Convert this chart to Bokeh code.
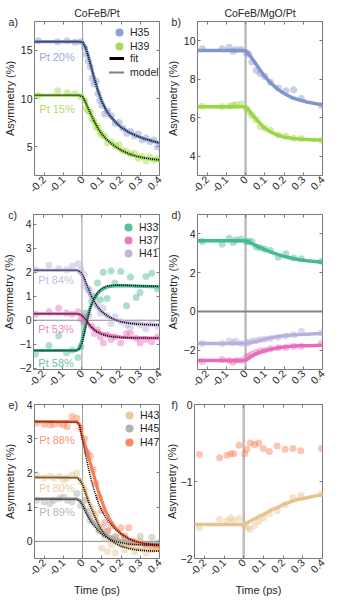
import math
from bokeh.plotting import figure
from bokeh.models import (Range1d, LinearAxis, FixedTicker, Span, Label,
                          Legend, LegendItem)
from bokeh.layouts import column, row
from bokeh.embed import file_html
from bokeh.resources import INLINE

# ---------------- axes / text data ----------------
x_limits = [-0.25, 0.4]
x_ticks = [-0.2, -0.1, 0.0, 0.1, 0.2, 0.3, 0.4]
x_tick_labels = ["-0.2", "-0.1", "0", "0.1", "0.2", "0.3", "0.4"]
col_titles = ["CoFeB/Pt", "CoFeB/MgO/Pt"]
panel_tags = ["a)", "b)", "c)", "d)", "e)", "f)"]
y_label = "Asymmetry (%)"
x_label = "Time (ps)"

ya_limits = [2, 18];      ya_ticks = [5, 10, 15]
yb_limits = [3, 11];      yb_ticks = [4, 6, 8, 10]
yc_limits = [-2.05, 4.4]; yc_ticks = [-2, -1, 0, 1, 2, 3, 4]
yd_limits = [-3, 5];      yd_ticks = [-2, 0, 2, 4]
ye_limits = [-0.5, 4];    ye_ticks = [0, 1, 2, 3, 4]
yf_limits = [-2, 0];      yf_ticks = [-2, -1, 0]

# time grid on which the fit / model curves were read
t_curve = [-0.25, -0.03, -0.015, 0.0, 0.015, 0.03, 0.045, 0.06, 0.08, 0.10,
           0.12, 0.14, 0.17, 0.20, 0.24, 0.28, 0.32, 0.36, 0.40]

# ---------------- panel a (CoFeB/Pt) ----------------
t_a = [-0.23, -0.13, -0.08, -0.04, -0.01, 0.01, 0.02, 0.03, 0.04, 0.05, 0.06,
       0.07, 0.08, 0.09, 0.10, 0.115, 0.13, 0.15, 0.17, 0.19, 0.21, 0.23, 0.25,
       0.27, 0.29, 0.31, 0.33, 0.35, 0.37, 0.39]
a_H35 = [16.0, 15.9, 16.0, 15.85, 15.9, 15.3, 14.6, 13.9, 13.3, 12.1, 11.5, 11.8,
         10.5, 9.8, 9.3, 8.4, 8.7, 8.2, 7.4, 7.5, 6.9, 6.4, 6.6, 6.1, 6.3, 5.7,
         5.9, 5.5, 5.7, 4.95]
a_H39 = [10.3, 10.8, 10.6, 10.5, 10.2, 9.8, 9.0, 8.7, 8.6, 7.9, 7.6, 7.0, 7.1,
         6.5, 6.2, 6.1, 5.4, 5.5, 5.1, 5.2, 4.6, 4.5, 4.2, 4.3, 3.8, 4.0, 3.5,
         3.9, 3.6, 3.75]
a_fit_H35 = [15.9, 15.9, 15.9, 15.85, 15.35, 14.4, 13.28, 12.15, 10.8, 9.69,
             8.88, 8.25, 7.55, 7.0, 6.5, 6.12, 5.82, 5.6, 5.37]
a_fit_H39 = [10.34, 10.34, 10.32, 10.2, 9.65, 8.95, 8.27, 7.65, 6.9, 6.29,
             5.83, 5.48, 5.0, 4.63, 4.25, 4.0, 3.83, 3.71, 3.62]
a_mod_H35 = [15.9, 15.9, 15.9, 15.83, 15.3, 14.35, 13.25, 12.15, 10.8, 9.7,
             8.9, 8.27, 7.57, 7.02, 6.5, 6.12, 5.83, 5.6, 5.38]
a_mod_H39 = [10.34, 10.34, 10.32, 10.18, 9.62, 8.93, 8.26, 7.65, 6.9, 6.3,
             5.84, 5.48, 5.01, 4.64, 4.26, 4.0, 3.83, 3.71, 3.62]

# ---------------- panels b, d, f (CoFeB/MgO/Pt) ----------------
t_bdf = [-0.225, -0.122, -0.085, -0.066, -0.05, -0.024, 0.005, 0.016, 0.033,
         0.055, 0.076, 0.1, 0.13, 0.17, 0.21, 0.25, 0.29, 0.395]
b_H35 = [9.58, 9.58, 9.66, 9.45, 9.55, 9.54, 9.38, 9.3, 8.9, 8.47, 8.3, 8.14,
         7.85, 7.55, 7.4, 7.45, 7.0, 6.64]
b_H39 = [6.6, 6.57, 6.6, 6.65, 6.67, 6.72, 6.5, 6.3, 6.1, 5.9, 5.55, 5.45, 5.35,
         5.1, 5.05, 4.93, 4.92, 4.82]
b_fit_H35 = [9.5, 9.5, 9.5, 9.48, 9.33, 9.13, 8.92, 8.7, 8.41, 8.15, 7.91,
             7.72, 7.46, 7.26, 7.05, 6.92, 6.82, 6.74, 6.67]
b_fit_H39 = [6.57, 6.57, 6.57, 6.55, 6.42, 6.23, 6.04, 5.86, 5.66, 5.46, 5.32,
             5.21, 5.09, 5.0, 4.93, 4.89, 4.87, 4.85, 4.84]

d_H33 = [3.61, 3.47, 3.78, 3.56, 3.68, 3.73, 3.6, 3.62, 3.61, 3.32, 3.28, 3.22,
         3.14, 2.8, 2.97, 2.75, 2.71, 2.59]
d_H37 = [-2.59, -2.49, -2.54, -2.62, -2.54, -2.54, -2.37, -2.3, -2.2, -2.12,
         -2.05, -2.0, -1.92, -1.88, -1.86, -1.8, -1.8, -1.64]
d_H41 = [-1.66, -1.66, -1.53, -1.6, -1.53, -1.66, -1.62, -1.6, -1.53, -1.5,
         -1.45, -1.44, -1.4, -1.33, -1.27, -1.2, -1.02, -1.1]
d_fit_H33 = [3.64, 3.64, 3.64, 3.63, 3.58, 3.51, 3.44, 3.37, 3.28, 3.19, 3.11,
             3.03, 2.93, 2.84, 2.74, 2.66, 2.61, 2.57, 2.54]
d_fit_H37 = [-2.54, -2.54, -2.54, -2.52, -2.43, -2.33, -2.24, -2.17, -2.09,
             -2.03, -1.98, -1.94, -1.88, -1.84, -1.8, -1.78, -1.77, -1.76, -1.75]
d_fit_H41 = [-1.66, -1.66, -1.66, -1.65, -1.63, -1.6, -1.57, -1.54, -1.49,
             -1.44, -1.39, -1.35, -1.3, -1.26, -1.22, -1.2, -1.18, -1.16, -1.14]

f_H43 = [-1.6, -1.49, -1.51, -1.47, -1.51, -1.48, -1.57, -1.6, -1.62, -1.57,
         -1.52, -1.47, -1.42, -1.38, -1.3, -1.21, -1.18, -1.16]
f_H47 = [-0.65, -0.69, -0.66, -0.64, -0.64, -0.53, -0.64, -0.58, -0.5, -0.52,
         -0.5, -0.57, -0.61, -0.54, -0.58, -0.57, -0.6, -0.57]
f_fit_H43 = [-1.56, -1.56, -1.56, -1.56, -1.54, -1.52, -1.5, -1.48, -1.45,
             -1.43, -1.4, -1.37, -1.34, -1.3, -1.26, -1.23, -1.21, -1.19, -1.17]

# ---------------- panel c ----------------
t_c = [-0.24, -0.17, -0.12, -0.08, -0.05, -0.02, -0.005, 0.01, 0.02, 0.035,
       0.05, 0.065, 0.08, 0.095, 0.11, 0.13, 0.15, 0.17, 0.2, 0.23, 0.25, 0.28,
       0.3, 0.33, 0.36, 0.39]
c_H33 = [-1.4, -1.05, -0.65, -1.35, -1.25, -1.55, -1.1, -0.1, 0.3, 1.25, 0.8,
         1.0, 1.55, 0.85, 2.0, 0.9, 2.05, 1.55, 2.03, 0.6, 1.8, 0.95, 1.15, 1.82,
         1.96, 1.3]
c_H37 = [0.25, 0.35, 0.5, 0.3, 0.25, 0.35, 0.05, 0.15, -0.05, 0.2, -0.25, -0.55,
         -0.4, -0.7, -0.95, -0.6, -0.8, -0.7, -0.95, -0.55, -0.55, -0.75, -0.95,
         -0.8, -0.9, -0.7]
c_H41 = [2.1, 2.3, 2.15, 2.1, 2.25, 2.35, 2.1, 1.9, 1.4, 1.3, 1.05, 0.85, 0.6,
         0.3, 0.5, 0.2, -0.15, 0.15, -0.05, -0.2, -0.3, -0.1, -0.2, -0.35, -0.15,
         -0.25]
c_fit_H33 = [-1.26, -1.26, -1.18, -0.85, -0.3, 0.2, 0.58, 0.86, 1.1, 1.26, 1.35,
             1.4, 1.43, 1.44, 1.43, 1.42, 1.41, 1.4, 1.39]
c_fit_H37 = [0.27, 0.27, 0.25, 0.18, 0.05, -0.12, -0.26, -0.37, -0.47, -0.54,
             -0.59, -0.63, -0.67, -0.7, -0.72, -0.73, -0.735, -0.74, -0.74]
c_fit_H41 = [2.08, 2.08, 2.02, 1.87, 1.6, 1.26, 0.98, 0.75, 0.52, 0.35, 0.23,
             0.13, 0.02, -0.05, -0.11, -0.14, -0.16, -0.18, -0.19]
c_mod_H33 = [-1.26, -1.26, -1.22, -0.98, -0.45, 0.1, 0.55, 0.87, 1.15, 1.32,
             1.4, 1.44, 1.46, 1.46, 1.45, 1.44, 1.43, 1.42, 1.41]
c_mod_H37 = [0.27, 0.27, 0.26, 0.2, 0.08, -0.1, -0.25, -0.38, -0.5, -0.58,
             -0.63, -0.67, -0.7, -0.72, -0.73, -0.74, -0.74, -0.74, -0.74]
c_mod_H41 = [2.08, 2.08, 2.06, 1.95, 1.7, 1.38, 1.08, 0.82, 0.57, 0.38, 0.25,
             0.14, 0.02, -0.06, -0.12, -0.16, -0.18, -0.19, -0.2]

# ---------------- panel e ----------------
t_e = [-0.24, -0.2, -0.17, -0.15, -0.12, -0.1, -0.08, -0.055, -0.03, -0.01,
       0.01, 0.025, 0.04, 0.055, 0.07, 0.085, 0.1, 0.115, 0.13, 0.15, 0.17, 0.2,
       0.22, 0.24, 0.27, 0.3, 0.33, 0.36, 0.39]
e_H43 = [1.95, 1.85, 1.9, 1.85, 1.9, 1.8, 1.85, 1.95, 2.0, 1.75, 1.5, 1.2, 1.0,
         0.6, 0.8, 0.35, -0.2, 0.1, -0.3, -0.1, -0.35, 0.05, -0.25, -0.1, -0.3,
         -0.2, -0.35, -0.25, -0.2]
e_H45 = [1.2, 1.15, 1.1, 1.2, 1.25, 1.3, 1.2, 1.15, 1.4, 1.05, 1.2, 0.85, 0.6,
         0.8, 0.55, 0.3, 0.4, 0.2, 0.3, 0.05, 0.15, -0.1, 0.1, -0.05, 0.0, 0.15,
         -0.1, 0.12, -0.05]
e_H47 = [3.45, 3.42, 3.4, 3.42, 3.45, 3.4, 3.35, 3.65, 3.6, 3.3, 3.0, 2.6, 2.5,
         2.1, 1.7, 1.3, 0.9, 0.55, 0.3, 0.45, 0.1, 0.4, 0.15, 0.4, -0.05, 0.0,
         -0.1, -0.15, -0.2]
e_fit_H43 = [1.87, 1.87, 1.82, 1.68, 1.45, 1.2, 1.0, 0.82, 0.55, 0.35, 0.2, 0.1,
             -0.03, -0.11, -0.18, -0.22, -0.25, -0.26, -0.27]
e_fit_H45 = [1.24, 1.24, 1.2, 1.1, 0.92, 0.76, 0.62, 0.52, 0.4, 0.28, 0.2, 0.14,
             0.07, 0.02, -0.02, -0.05, -0.06, -0.07, -0.08]
e_fit_H47 = [3.5, 3.5, 3.42, 3.05, 2.78, 2.5, 2.2, 1.9, 1.5, 1.18, 0.88, 0.65,
             0.4, 0.22, 0.07, -0.02, -0.07, -0.11, -0.13]
e_mod_H43 = [1.87, 1.86, 1.8, 1.65, 1.42, 1.17, 0.96, 0.78, 0.52, 0.32, 0.17,
             0.06, -0.06, -0.14, -0.21, -0.25, -0.27, -0.28, -0.28]
e_mod_H45 = [1.24, 1.23, 1.18, 1.06, 0.87, 0.7, 0.56, 0.45, 0.32, 0.21, 0.13,
             0.07, 0.0, -0.04, -0.08, -0.1, -0.11, -0.11, -0.12]
e_mod_H47 = [3.5, 3.48, 3.38, 2.95, 2.55, 2.15, 1.8, 1.5, 1.15, 0.9, 0.7, 0.55,
             0.36, 0.22, 0.08, -0.01, -0.06, -0.08, -0.09]

# sample labels
pt_a = ["Pt 20%", "Pt 15%"]
pt_c = ["Pt 84%", "Pt 53%", "Pt 58%"]
pt_e = ["Pt 88%", "Pt 80%", "Pt 89%"]

# ---------------- style ----------------
FONT = "Liberation Sans"
INK = "#262626"
BOX = "#7a7a7a"
COL = {"H35": "#8296cd", "H39": "#9bd646", "H33": "#46b991", "H37": "#e66eb9",
       "H41": "#b9afdc", "H43": "#e6c391", "H45": "#aaaaaa", "H47": "#fa7d55"}
NAN = float("nan")
NBSP = "\u00a0"


def style_axis(ax):
    ax.axis_line_color = None
    ax.major_tick_line_color = BOX
    ax.major_tick_in = 3
    ax.major_tick_out = 0
    ax.minor_tick_line_color = None
    ax.major_label_text_font = FONT
    ax.major_label_text_font_size = "10.5px"
    ax.major_label_text_color = INK
    ax.major_label_standoff = 2
    ax.axis_label_text_font = FONT
    ax.axis_label_text_font_size = "11px"
    ax.axis_label_text_font_style = "normal"
    ax.axis_label_text_color = INK
    ax.axis_label_standoff = 2


def fmt_num(v):
    return str(int(v)) if float(v).is_integer() else str(v)


def make_fig(w, h, borders, ylim, yticks, tag, title=None, xlabel=None):
    left, right, top, bottom = borders
    p = figure(width=w, height=h, x_range=Range1d(*x_limits),
               y_range=Range1d(*ylim), output_backend="svg",
               toolbar_location=None, min_border_left=left,
               min_border_right=right, min_border_top=top,
               min_border_bottom=bottom)
    p.background_fill_color = "white"
    p.border_fill_color = "white"
    p.grid.visible = False
    p.outline_line_color = BOX
    p.outline_line_width = 1
    if title:
        p.title.text = title
        p.title.align = "center"
        p.title.text_font = FONT
        p.title.text_font_size = "10.5px"
        p.title.text_font_style = "normal"
        p.title.text_color = INK
        p.title.standoff = 6
    xa, ya = p.xaxis[0], p.yaxis[0]
    style_axis(xa)
    style_axis(ya)
    xa.ticker = FixedTicker(ticks=x_ticks)
    xa.major_label_overrides = dict(zip(x_ticks, x_tick_labels))
    xa.major_label_orientation = math.pi / 4
    # panel tag: written as the label of the y tick at the top of the frame,
    # pushed left with no-break spaces so it sits left of the tick labels
    top_val = ylim[1]
    if top_val in yticks:
        ya.ticker = FixedTicker(ticks=list(yticks))
        tag_txt = tag + NBSP * 3 + fmt_num(top_val)
    else:
        ya.ticker = FixedTicker(ticks=list(yticks) + [top_val])
        tag_txt = tag + NBSP * 5
    ya.major_label_overrides = {top_val: tag_txt}
    ya.axis_label = y_label
    try:
        ya.axis_label_standoff = -10
    except Exception:
        ya.axis_label_standoff = 0
    if xlabel:
        xa.axis_label = xlabel
    # mirrored tick marks on top and right (box style), no labels drawn
    for side, ticks in (("above", x_ticks), ("right", yticks)):
        ax = LinearAxis(ticker=FixedTicker(ticks=ticks))
        style_axis(ax)
        ax.major_label_text_font_size = "0px"
        ax.major_label_text_color = None
        ax.major_label_standoff = 0
        p.add_layout(ax, side)
    return p


def vline(p, thick):
    if thick:
        p.add_layout(Span(location=0, dimension="height", line_color="#bdbdbd",
                          line_width=2.5, level="underlay"))
    else:
        p.add_layout(Span(location=0, dimension="height", line_color="#9a9a9a",
                          line_width=1, level="underlay"))


def hline(p, thick):
    p.add_layout(Span(location=0, dimension="width",
                      line_color="#858585" if thick else "#8c8c8c",
                      line_width=2 if thick else 1, level="underlay"))


def pts(p, t, y, c):
    p.scatter(t, y, size=7, fill_color=c, fill_alpha=0.45, line_color=None)


def fit(p, y, c, w=3.2):
    p.line(t_curve, y, line_color=c, line_width=w, line_cap="round")


def model(p, y):
    p.line(t_curve, y, line_color="black", line_width=1.6, line_dash="1 1")


def tag_text(p, x, y, text, c):
    p.add_layout(Label(x=x, y=y, text=text, text_font=FONT,
                       text_font_size="11px", text_color=c, text_alpha=0.85,
                       text_baseline="middle", text_align="left"))


def one_legend(p, label, renderer, loc, gw, gh, standoff):
    p.add_layout(Legend(items=[LegendItem(label=label, renderers=[renderer])],
                        location=loc, glyph_width=gw, glyph_height=gh,
                        label_height=gh, spacing=0, padding=0, margin=0,
                        label_standoff=standoff, background_fill_alpha=0,
                        border_line_alpha=0, label_text_font=FONT,
                        label_text_font_size="10.5px",
                        label_text_color=INK))


def circle_legend(p, names, x, ys):
    for n, y in zip(names, ys):
        r = p.scatter(x=[NAN], y=[NAN], size=8, fill_color=COL[n],
                      fill_alpha=0.9, line_color=None)
        one_legend(p, n, r, (x, y), 20, 20, 1)


# ---------------- geometry ----------------
WL, WR = 163, 164
BL = (29, 4)
BR = (29, 5)
rows_h = [(198, 21, 23), (194, 16, 23), (206, 12, 40)]

# ---------------- panel a ----------------
h, tp, bt = rows_h[0]
pa = make_fig(WL, h, BL + (tp, bt), ya_limits, ya_ticks, panel_tags[0],
              title=col_titles[0])
vline(pa, False)
pts(pa, t_a, a_H35, COL["H35"])
pts(pa, t_a, a_H39, COL["H39"])
fit(pa, a_fit_H35, COL["H35"])
fit(pa, a_fit_H39, COL["H39"])
model(pa, a_mod_H35)
model(pa, a_mod_H39)
tag_text(pa, -0.225, 14.3, pt_a[0], COL["H35"])
tag_text(pa, -0.225, 8.9, pt_a[1], COL["H39"])
circle_legend(pa, ["H35", "H39"], 75, [133, 119])
rf = pa.line(x=[NAN, NAN], y=[NAN, NAN], line_color="black", line_width=3)
rm = pa.line(x=[NAN, NAN], y=[NAN, NAN], line_color="black", line_width=2,
             line_dash="1 1")
one_legend(pa, "fit", rf, (75, 110), 15, 14, 6)
one_legend(pa, "model", rm, (75, 96), 15, 14, 6)

# ---------------- panel b ----------------
pb = make_fig(WR, h, BR + (tp, bt), yb_limits, yb_ticks, panel_tags[1],
              title=col_titles[1])
vline(pb, True)
pts(pb, t_bdf, b_H35, COL["H35"])
pts(pb, t_bdf, b_H39, COL["H39"])
fit(pb, b_fit_H35, COL["H35"], 3.5)
fit(pb, b_fit_H39, COL["H39"], 3.5)

# ---------------- panel c ----------------
h, tp, bt = rows_h[1]
pc = make_fig(WL, h, BL + (tp, bt), yc_limits, yc_ticks, panel_tags[2])
vline(pc, False)
hline(pc, False)
for n, y in (("H33", c_H33), ("H37", c_H37), ("H41", c_H41)):
    pts(pc, t_c, y, COL[n])
for n, y in (("H33", c_fit_H33), ("H37", c_fit_H37), ("H41", c_fit_H41)):
    fit(pc, y, COL[n])
for y in (c_mod_H33, c_mod_H37, c_mod_H41):
    model(pc, y)
tag_text(pc, -0.225, 1.68, pt_c[0], COL["H41"])
tag_text(pc, -0.225, -0.35, pt_c[1], COL["H37"])
tag_text(pc, -0.225, -1.76, pt_c[2], COL["H33"])
circle_legend(pc, ["H33", "H37", "H41"], 85, [132, 119, 106])

# ---------------- panel d ----------------
pd_ = make_fig(WR, h, BR + (tp, bt), yd_limits, yd_ticks, panel_tags[3])
vline(pd_, True)
hline(pd_, True)
for n, y in (("H33", d_H33), ("H37", d_H37), ("H41", d_H41)):
    pts(pd_, t_bdf, y, COL[n])
for n, y in (("H33", d_fit_H33), ("H37", d_fit_H37), ("H41", d_fit_H41)):
    fit(pd_, y, COL[n], 3.5)

# ---------------- panel e ----------------
h, tp, bt = rows_h[2]
pe = make_fig(WL, h, BL + (tp, bt), ye_limits, ye_ticks, panel_tags[4],
              xlabel=x_label)
vline(pe, False)
hline(pe, False)
for n, y in (("H43", e_H43), ("H45", e_H45), ("H47", e_H47)):
    pts(pe, t_e, y, COL[n])
for n, y in (("H43", e_fit_H43), ("H45", e_fit_H45), ("H47", e_fit_H47)):
    fit(pe, y, COL[n])
for y in (e_mod_H43, e_mod_H45, e_mod_H47):
    model(pe, y)
tag_text(pe, -0.225, 2.97, pt_e[0], COL["H47"])
tag_text(pe, -0.225, 1.56, pt_e[1], COL["H43"])
tag_text(pe, -0.225, 0.87, pt_e[2], COL["H45"])
circle_legend(pe, ["H43", "H45", "H47"], 85, [133, 120, 106])

# ---------------- panel f ----------------
pf = make_fig(WR, h, BR + (tp, bt), yf_limits, yf_ticks, panel_tags[5],
              xlabel=x_label)
vline(pf, True)
pts(pf, t_bdf, f_H43, COL["H43"])
pts(pf, t_bdf, f_H47, COL["H47"])
fit(pf, f_fit_H43, COL["H43"], 3.5)

layout = column(row(pa, pb), row(pc, pd_), row(pe, pf))
open("out.html", "w").write(file_html(layout, INLINE))
